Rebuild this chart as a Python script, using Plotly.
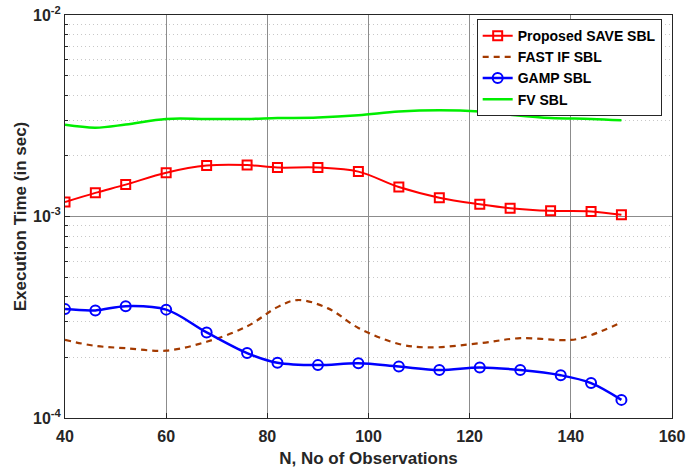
import plotly.graph_objects as go

# Data
x_save = [40, 46, 52, 60, 68, 76, 82, 90, 98, 106, 114, 122, 128, 136, 144, 150]
y_save = [1.18e-3, 1.31e-3, 1.44e-3, 1.65e-3, 1.79e-3, 1.80e-3, 1.75e-3, 1.75e-3,
          1.67e-3, 1.40e-3, 1.24e-3, 1.15e-3, 1.10e-3, 1.067e-3, 1.06e-3, 1.02e-3]

x_fast = [40, 46, 52, 60, 68, 76, 82, 86, 92, 98, 106, 112, 122, 130, 140, 144, 150]
y_fast = [2.44e-4, 2.28e-4, 2.22e-4, 2.16e-4, 2.39e-4, 2.85e-4, 3.55e-4, 3.85e-4, 3.50e-4,
          2.80e-4, 2.33e-4, 2.24e-4, 2.35e-4, 2.49e-4, 2.44e-4, 2.58e-4, 2.98e-4]

x_gamp = [40, 46, 52, 60, 68, 76, 82, 90, 98, 106, 114, 122, 130, 138, 144, 150]
y_gamp = [3.47e-4, 3.42e-4, 3.59e-4, 3.45e-4, 2.66e-4, 2.10e-4, 1.88e-4, 1.83e-4,
          1.87e-4, 1.80e-4, 1.73e-4, 1.78e-4, 1.73e-4, 1.63e-4, 1.49e-4, 1.23e-4]

x_fv = [40, 46, 52, 60, 68, 76, 82, 90, 98, 106, 114, 122, 128, 136, 144, 150]
y_fv = [2.85e-3, 2.76e-3, 2.86e-3, 3.05e-3, 3.05e-3, 3.05e-3, 3.08e-3, 3.10e-3,
        3.18e-3, 3.32e-3, 3.37e-3, 3.32e-3, 3.20e-3, 3.08e-3, 3.05e-3, 3.00e-3]

x_ticks = [40, 60, 80, 100, 120, 140, 160]
y_ticks = [1e-4, 1e-3, 1e-2]
y_ticktext = ["10<sup>-4</sup>", "10<sup>-3</sup>", "10<sup>-2</sup>"]
y_minor = [m * d for d in (1e-4, 1e-3) for m in range(2, 10)]

FONT = "Liberation Sans"
TXT = "#262626"

fig = go.Figure()
fig.add_trace(go.Scatter(
    x=x_save, y=y_save, name="Proposed SAVE SBL", mode="lines+markers",
    line=dict(color="#ff0000", width=2, shape="spline", smoothing=1),
    marker=dict(symbol="square-open", size=9, color="#ff0000", line=dict(width=2))))
fig.add_trace(go.Scatter(
    x=x_fast, y=y_fast, name="FAST IF SBL", mode="lines",
    line=dict(color="#a33a00", width=2.2, dash="6px,5px", shape="spline", smoothing=1)))
fig.add_trace(go.Scatter(
    x=x_gamp, y=y_gamp, name="GAMP SBL", mode="lines+markers",
    line=dict(color="#0000ff", width=2.5, shape="spline", smoothing=1),
    marker=dict(symbol="circle-open", size=10, color="#0000ff", line=dict(width=2))))
fig.add_trace(go.Scatter(
    x=x_fv, y=y_fv, name="FV SBL", mode="lines",
    line=dict(color="#00ee00", width=2.5, shape="spline", smoothing=1)))

fig.update_layout(
    width=686, height=468,
    margin=dict(l=65, r=14, t=15, b=50, autoexpand=False),
    paper_bgcolor="white", plot_bgcolor="white",
    font=dict(family=FONT, size=14, color=TXT, weight="bold"),
    showlegend=True,
    legend=dict(x=0.983, y=0.99, xanchor="right", yanchor="top",
                bgcolor="white", bordercolor=TXT, borderwidth=1,
                font=dict(family=FONT, size=14, color="black", weight="bold"),
                tracegroupgap=0, itemwidth=30),
)
fig.update_xaxes(
    range=[40, 160], tickmode="array", tickvals=x_ticks,
    showgrid=True, gridcolor="#8c8c8c", gridwidth=1,
    showline=True, linecolor=TXT, linewidth=1, mirror=True,
    ticks="inside", ticklen=5, tickcolor=TXT, ticklabelstandoff=4,
    tickfont=dict(family=FONT, size=16, color=TXT, weight="bold"),
    title=dict(text="N, No of Observations", standoff=10,
               font=dict(family=FONT, size=17, color=TXT, weight="bold")),
    zeroline=False)
fig.update_yaxes(
    type="log", range=[-4, -2], tickmode="array", tickvals=y_ticks, ticktext=y_ticktext,
    showgrid=True, gridcolor="#8c8c8c", gridwidth=1,
    showline=True, linecolor=TXT, linewidth=1, mirror=True,
    ticks="inside", ticklen=5, tickcolor=TXT,
    tickfont=dict(family=FONT, size=16, color=TXT, weight="bold"),
    minor=dict(tickmode="array", tickvals=y_minor, ticks="inside", ticklen=3,
               tickcolor=TXT, showgrid=True, gridcolor="#c8c8c8", griddash="1px,3px",
               gridwidth=1),
    title=dict(text="Execution Time (in sec)", standoff=2,
               font=dict(family=FONT, size=17, color=TXT, weight="bold")),
    zeroline=False)

fig.write_html("out.html", config={"displayModeBar": False},
               post_script="document.body.style.margin='0px';")
